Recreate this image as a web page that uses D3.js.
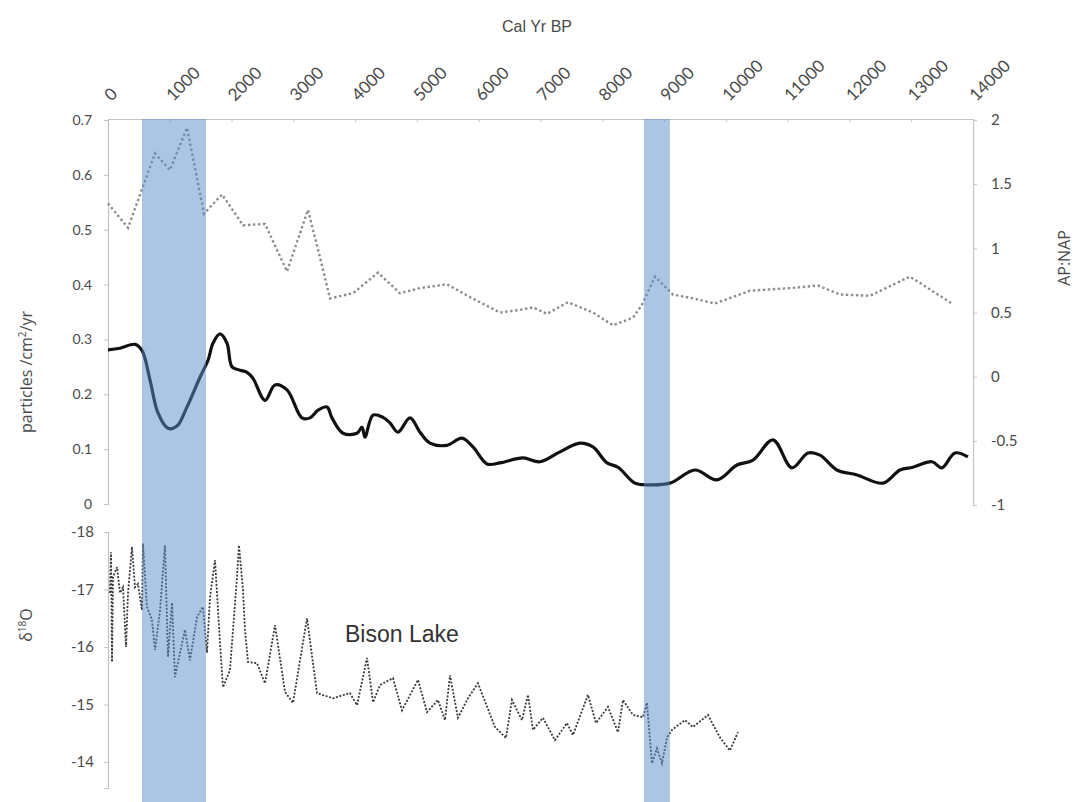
<!DOCTYPE html>
<html>
<head>
<meta charset="utf-8" />
<title>Cal Yr BP</title>
<script src="https://d3js.org/d3.v7.min.js"></script>
<style>
  body { margin: 0; background: #fff; }
  svg text { fill: #4a4a4a; }
</style>
</head>
<body>
<svg id="chart" width="1075" height="802"></svg>
<script>

// x axis ticks (cal yr BP)
var yearTicks = [0, 1000, 2000, 3000, 4000, 5000, 6000, 7000, 8000, 9000, 10000, 11000, 12000, 13000, 14000];
var particleTicks = [0, 0.1, 0.2, 0.3, 0.4, 0.5, 0.6, 0.7];
var apnapTicks = [-1, -0.5, 0, 0.5, 1, 1.5, 2];
var d18oTicks = [-18, -17, -16, -15, -14];

// shaded intervals [start, end] in cal yr BP
var bands = [[550, 1586], [8673, 9094]];

// charcoal particles (particles /cm2/yr)
var charYears = [0, 194, 437, 550, 680, 809, 971, 1117, 1279, 1489, 1619, 1699, 1813, 1926, 2007, 2136, 2250, 2347, 2541, 2703, 2897, 3140, 3269, 3399, 3544, 3625, 3803, 4030, 4111, 4159, 4289, 4451, 4564, 4693, 4888, 5049, 5211, 5486, 5729, 5907, 6134, 6344, 6716, 6992, 7315, 7639, 7849, 8076, 8254, 8529, 8723, 9095, 9500, 9856, 10180, 10439, 10762, 11070, 11329, 11523, 11798, 12122, 12543, 12818, 13028, 13336, 13497, 13708, 13918];
var charValues = [0.281, 0.284, 0.291, 0.280, 0.226, 0.166, 0.138, 0.142, 0.177, 0.231, 0.262, 0.293, 0.310, 0.293, 0.250, 0.244, 0.240, 0.229, 0.189, 0.217, 0.208, 0.157, 0.157, 0.171, 0.177, 0.157, 0.129, 0.129, 0.140, 0.122, 0.162, 0.158, 0.148, 0.131, 0.157, 0.131, 0.111, 0.107, 0.120, 0.104, 0.073, 0.075, 0.084, 0.077, 0.095, 0.111, 0.104, 0.075, 0.067, 0.038, 0.035, 0.038, 0.062, 0.044, 0.071, 0.080, 0.117, 0.066, 0.093, 0.089, 0.062, 0.053, 0.038, 0.062, 0.067, 0.077, 0.066, 0.093, 0.086];

// AP:NAP ratio
var apYears = [0, 324, 761, 1003, 1279, 1554, 1845, 2185, 2541, 2897, 3237, 3431, 3593, 3965, 4370, 4726, 5049, 5486, 5859, 6344, 6668, 6878, 7105, 7445, 7849, 8173, 8497, 8642, 8853, 9144, 9468, 9824, 10390, 11037, 11490, 11847, 12332, 12979, 13659];
var apValues = [1.35, 1.16, 1.74, 1.61, 1.94, 1.27, 1.42, 1.18, 1.19, 0.82, 1.30, 0.93, 0.61, 0.65, 0.81, 0.65, 0.69, 0.72, 0.62, 0.50, 0.52, 0.54, 0.49, 0.58, 0.50, 0.40, 0.46, 0.56, 0.78, 0.64, 0.61, 0.57, 0.67, 0.69, 0.71, 0.64, 0.63, 0.78, 0.57];

// Bison Lake d18O
var bisonYears = [32, 49, 65, 81, 146, 194, 243, 291, 324, 388, 437, 486, 550, 566, 631, 712, 761, 842, 922, 971, 1036, 1084, 1165, 1246, 1327, 1440, 1537, 1602, 1651, 1732, 1813, 1861, 1974, 2088, 2120, 2185, 2217, 2266, 2411, 2541, 2703, 2865, 2994, 3221, 3382, 3641, 3916, 4030, 4192, 4289, 4402, 4612, 4758, 5017, 5163, 5341, 5454, 5535, 5664, 5826, 5988, 6263, 6441, 6538, 6700, 6797, 6878, 7040, 7234, 7428, 7526, 7768, 7898, 8092, 8254, 8335, 8497, 8659, 8723, 8804, 8885, 8966, 9047, 9128, 9338, 9468, 9710, 9904, 10066, 10196];
var bisonValues = [-16.94, -17.65, -15.74, -17.22, -17.39, -16.94, -17.04, -16.0, -16.94, -17.74, -17.04, -17.1, -16.64, -17.8, -16.7, -16.47, -15.95, -16.64, -17.77, -15.83, -16.77, -15.48, -15.9, -16.3, -15.77, -16.52, -16.7, -15.9, -16.87, -17.51, -16.07, -15.3, -15.6, -17.22, -17.77, -16.99, -16.3, -15.74, -15.72, -15.37, -16.38, -15.22, -15.03, -16.5, -15.2, -15.11, -15.2, -14.99, -15.81, -15.04, -15.34, -15.46, -14.9, -15.43, -14.87, -15.08, -14.73, -15.51, -14.77, -15.11, -15.37, -14.61, -14.42, -15.08, -14.73, -15.17, -14.56, -14.77, -14.38, -14.68, -14.47, -15.17, -14.68, -14.96, -14.52, -15.08, -14.82, -14.78, -15.03, -13.98, -14.24, -13.98, -14.43, -14.56, -14.73, -14.61, -14.82, -14.43, -14.2, -14.52];

var svg = d3.select("#chart");

var x = d3.scaleLinear().domain([0, 14000]).range([108, 973]);
var yP = d3.scaleLinear().domain([0, 0.7]).range([504, 120]);
var yA = d3.scaleLinear().domain([-1, 2]).range([505, 120]);
var yD = d3.scaleLinear().domain([-18, -13.55]).range([532, 788]);

function pairs(xs, ys) {
    return xs.map(function (d, i) { return [d, ys[i]]; });
}

// plain hyphen minus, like the original
function plain(d) { return String(d); }

function styleAxis(g) {
    g.selectAll("path.domain").attr("stroke", "#c4c4c4").attr("stroke-width", 1.2);
    g.selectAll(".tick line").attr("stroke", "#c4c4c4");
    g.selectAll(".tick text").style("fill", "#4a4a4a");
}

// top x axis
var xAxis = svg.append("g")
    .attr("transform", "translate(0,119)")
    .call(d3.axisTop(x).tickValues(yearTicks).tickSizeInner(-3).tickSizeOuter(0).tickFormat(plain));
xAxis.selectAll(".tick text")
    .attr("x", 0).attr("y", 0).attr("dy", 0)
    .attr("transform", "translate(3,-17) rotate(-45)")
    .style("text-anchor", "start")
    .style("font-family", "Lato, sans-serif")
    .style("font-size", "17px");
styleAxis(xAxis);

// left particles axis
var pAxis = svg.append("g")
    .attr("transform", "translate(108,0)")
    .call(d3.axisLeft(yP).tickValues(particleTicks).tickSize(4).tickPadding(12).tickFormat(function (d) { return d === 0 ? "0" : d.toFixed(1); }));
pAxis.selectAll(".tick text").style("font-family", "Lato, sans-serif").style("font-size", "14px");
styleAxis(pAxis);

// right AP:NAP axis
var aAxis = svg.append("g")
    .attr("transform", "translate(973,0)")
    .call(d3.axisRight(yA).tickValues(apnapTicks).tickSize(4).tickPadding(14).tickFormat(plain));
aAxis.selectAll(".tick text").style("font-family", "Lato, sans-serif").style("font-size", "15px");
styleAxis(aAxis);

// left d18O axis
var dAxis = svg.append("g")
    .attr("transform", "translate(108,0)")
    .call(d3.axisLeft(yD).tickValues(d18oTicks).tickSize(4).tickPadding(10).tickFormat(plain));
dAxis.selectAll(".tick text").style("font-family", "Lato, sans-serif").style("font-size", "15px");
styleAxis(dAxis);

// lines
var apLine = d3.line().x(function (d) { return x(d[0]); }).y(function (d) { return yA(d[1]); });
svg.append("path")
    .datum(pairs(apYears, apValues))
    .attr("d", apLine)
    .attr("fill", "none")
    .attr("stroke", "#8c8c8c")
    .attr("stroke-width", 2.4)
    .attr("stroke-dasharray", "2.4,2.6");

var charLine = d3.line().curve(d3.curveCatmullRom.alpha(0.5))
    .x(function (d) { return x(d[0]); }).y(function (d) { return yP(d[1]); });
svg.append("path")
    .datum(pairs(charYears, charValues))
    .attr("d", charLine)
    .attr("fill", "none")
    .attr("stroke", "#111")
    .attr("stroke-width", 3.2)
    .attr("stroke-linejoin", "round");

var bisonLine = d3.line().x(function (d) { return x(d[0]); }).y(function (d) { return yD(d[1]); });
svg.append("path")
    .datum(pairs(bisonYears, bisonValues))
    .attr("d", bisonLine)
    .attr("fill", "none")
    .attr("stroke", "#3a3a3a")
    .attr("stroke-width", 1.8)
    .attr("stroke-dasharray", "2,1.6");

// shaded bands over the lines
svg.selectAll("rect.band")
    .data(bands)
    .enter().append("rect")
    .attr("class", "band")
    .attr("x", function (d) { return x(d[0]); })
    .attr("width", function (d) { return x(d[1]) - x(d[0]); })
    .attr("y", 119)
    .attr("height", 802 - 119)
    .attr("fill", "#578bc7")
    .attr("opacity", 0.5);

// titles
svg.append("text")
    .attr("x", 537).attr("y", 32)
    .attr("text-anchor", "middle")
    .style("font-family", "Liberation Sans, Arial, sans-serif")
    .style("font-size", "16px")
    .text("Cal Yr BP");

var pLabel = svg.append("text")
    .attr("transform", "translate(32,372) rotate(-90)")
    .attr("text-anchor", "middle")
    .style("font-family", "Open Sans, sans-serif")
    .style("font-size", "16px");
pLabel.append("tspan").text("particles /cm");
pLabel.append("tspan").attr("dy", -6).style("font-size", "10px").text("2");
pLabel.append("tspan").attr("dy", 6).text("/yr");

svg.append("text")
    .attr("transform", "translate(1070,258) rotate(-90)")
    .attr("text-anchor", "middle")
    .style("font-family", "Open Sans, sans-serif")
    .style("font-size", "16px")
    .text("AP:NAP");

var dLabel = svg.append("text")
    .attr("transform", "translate(32,625) rotate(-90)")
    .attr("text-anchor", "middle")
    .style("font-family", "Open Sans, sans-serif")
    .style("font-size", "16px");
dLabel.append("tspan").text("δ");
dLabel.append("tspan").attr("dy", -6).style("font-size", "10px").text("18");
dLabel.append("tspan").attr("dy", 6).text("O");

svg.append("text")
    .attr("x", 345).attr("y", 642)
    .style("font-family", "Liberation Sans, Arial, sans-serif")
    .style("font-size", "23px")
    .style("fill", "#333")
    .text("Bison Lake");

</script>
</body>
</html>
